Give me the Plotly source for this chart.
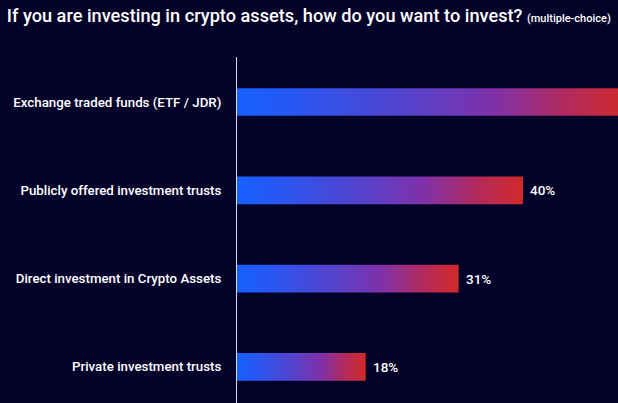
import plotly.graph_objects as go

categories = ["Exchange traded funds (ETF / JDR)",
              "Publicly offered investment trusts",
              "Direct investment in Crypto Assets",
              "Private investment trusts"]
values = [55, 40, 31, 18]
value_labels = ["55%", "40%", "31%", "18%"]

BG = "#030228"
GRAD = [[0.0, "#1760ff"], [0.15, "#2857f2"], [0.45, "#5841c9"],
        [0.65, "#7f31aa"], [0.85, "#b52a58"], [1.0, "#d22a29"]]
HALF = 0.157

n = len(categories)
ypos = [n - 1 - i for i in range(n)]

fig = go.Figure()
for cat, v, y in zip(categories, values, ypos):
    fig.add_trace(go.Scatter(
        x=[0, v, v, 0, 0],
        y=[y - HALF, y - HALF, y + HALF, y + HALF, y - HALF],
        mode="lines", line=dict(width=0), fill="toself",
        fillgradient=dict(type="horizontal", colorscale=GRAD),
        hoverinfo="skip", showlegend=False, name=cat))

for v, y, lab in zip(values, ypos, value_labels):
    fig.add_annotation(x=v, y=y, text=lab, showarrow=False,
                       xanchor="left", yanchor="middle", xshift=5,
                       font=dict(family="Roboto", size=13.5, color="white", weight=500))

fig.update_layout(
    width=618, height=403,
    paper_bgcolor=BG, plot_bgcolor=BG,
    margin=dict(l=237, r=0, t=57, b=0),
    title=dict(
        text="If you are investing in crypto assets, how do you want to invest? "
             "<span style='font-size:11px'>(multiple-choice)</span>",
        x=0.011, xref="container", xanchor="left",
        y=0.962, yref="container", yanchor="middle",
        font=dict(family="Roboto", size=18.2, color="white", weight=500)),
    xaxis=dict(range=[0, 53.3], visible=False, fixedrange=True),
    yaxis=dict(range=[-0.41, 3.51], tickvals=ypos, ticktext=categories,
               showgrid=False, zeroline=False, showline=True,
               linecolor="#d8d8e8", linewidth=1, ticks="",
               ticklabelstandoff=12, fixedrange=True,
               tickfont=dict(family="Roboto", size=13.3, color="white", weight=500)),
)

fig.write_html("out.html", config={"displayModeBar": False},
               post_script="document.body.style.margin='0';document.body.style.background='" + BG + "';")
